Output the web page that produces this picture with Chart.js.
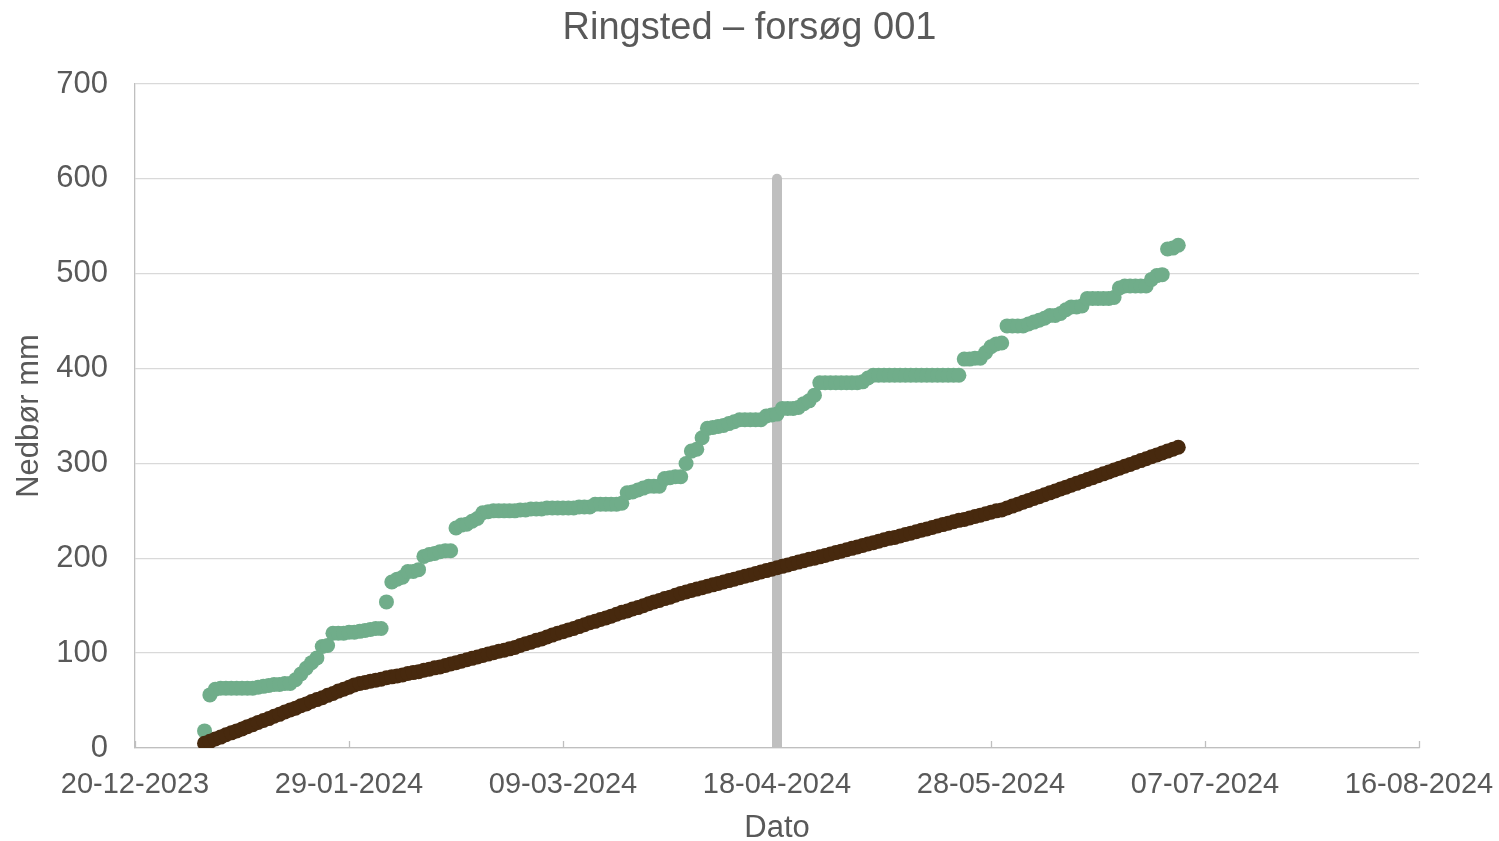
<!DOCTYPE html>
<html>
<head>
<meta charset="utf-8">
<script src="https://cdn.jsdelivr.net/npm/chart.js@4.4.1/dist/chart.umd.min.js"></script>
<style>
  html, body { margin: 0; padding: 0; background: #ffffff; }
  #wrap { width: 1499px; height: 841px; }
</style>
</head>
<body>
<div id="wrap"><canvas id="c" width="1499" height="841"></canvas></div>
<script>
// ---- Data ----
const tickLabels = ['20-12-2023','29-01-2024','09-03-2024','18-04-2024','28-05-2024','07-07-2024','16-08-2024'];
const firstDay = 13; // days after 20-12-2023 (02-01-2024), one value per day
const nedboerGreen = [
  18,56,62,63,63,63,63,63,63,63,
  64,65,66,67,67,68,68,72,78,84,
  90,95,107,108,121,121,121,122,122,123,
  124,125,126,126,154,175,178,180,186,186,
  188,202,204,205,207,208,208,232,235,236,
  239,242,248,249,250,250,250,250,250,251,
  251,252,252,252,253,253,253,253,253,253,
  254,254,254,257,257,257,257,257,258,269,
  270,272,274,276,276,276,284,285,286,286,
  300,313,315,327,337,338,339,340,342,344,
  346,346,346,346,346,350,351,352,358,358,
  358,359,363,366,372,385,385,385,385,385,
  385,385,385,386,390,393,393,393,393,393,
  393,393,393,393,393,393,393,393,393,393,
  393,393,410,410,411,411,417,423,426,427,
  445,445,445,445,447,449,451,453,456,456,
  458,462,465,465,466,474,474,474,474,474,
  475,485,487,487,487,487,487,494,498,499,
  526,527,530
];
const nedboerBrown = [
  5,7,9.5,11.5,14,16,18,20,22.5,24.5,27,29,31,33.5,35.5,38,40,42,44.5,46.5,49,51,53,55.5,57.5,60,62,64,66.5,68,
  69,70.5,71.5,72.5,74,75,76,77,78.5,79.5,80.5,82,83,84.5,85.5,
  87,88.5,90,91.5,93,94.5,96,97.5,99,100.5,102,103,104.5,106,
  108,110,111.5,113.5,115,117,119,121,122.5,124.5,126,128,130,132,133.5,135.5,137,139,141,143,144.5,146.5,148,150,152,154,155.5,157.5,159,161,163,
  164.5,166,167.5,169,170.5,172,173.5,175,176.5,178,179.5,181,182.5,184,185.5,187,188.5,190,
  191.5,193,194.5,196,197.5,199,200,201.5,203,204.5,206,207.5,209,210.5,212,213.5,215,216.5,218,219.5,221,222,223.5,225,226.5,228,229.5,231,232.5,234,235.5,237,238.5,240,241,242.5,244,245.5,247,248.5,250,251,
  253,255,257,259,261,263,265,267,269,271,273,275,277,279,281,283,285,287,289,291,293,295,297,299,301,303,305,307,309,311,313,315,317
];
const markerDay = [120, 120];   // 18-04-2024
const markerValue = [0, 600];

// ---- Build datasets ----
const greenPts = nedboerGreen.map((v, i) => ({ x: firstDay + i, y: v }));
const brownPts = nedboerBrown.map((v, i) => ({ x: firstDay + i, y: v }));
const markerPts = markerDay.map((d, i) => ({ x: d, y: markerValue[i] }));

const TEXT = '#595959';
const FONT = "'Liberation Sans', Arial, sans-serif";

const innerTicks = {
  id: 'innerTicks',
  beforeDatasetsDraw(chart) {
    const xs = chart.scales.x;
    const ctx = chart.ctx;
    const bottom = chart.chartArea.bottom;
    ctx.save();
    ctx.strokeStyle = '#BFBFBF';
    ctx.lineWidth = 1.3;
    xs.ticks.forEach(t => {
      const px = Math.round(xs.getPixelForValue(t.value)) + 0.5;
      ctx.beginPath();
      ctx.moveTo(px, bottom);
      ctx.lineTo(px, bottom - 7);
      ctx.stroke();
    });
    ctx.restore();
  }
};

new Chart(document.getElementById('c'), {
  type: 'scatter',
  data: {
    datasets: [
      {
        label: 'Reference',
        data: markerPts,
        showLine: true,
        borderColor: '#BFBFBF',
        borderWidth: 10,
        borderCapStyle: 'round',
        pointRadius: 0,
        clip: 0,
        order: 3
      },
      {
        label: 'Nedbør',
        data: greenPts,
        backgroundColor: '#70AD8A',
        borderWidth: 0,
        pointRadius: 7.5,
        order: 2
      },
      {
        label: 'Normal',
        data: brownPts,
        backgroundColor: '#47290E',
        borderWidth: 0,
        pointRadius: 7.5,
        order: 1
      }
    ]
  },
  options: {
    responsive: false,
    animation: false,
    devicePixelRatio: 1,
    layout: { padding: { left: 0, right: 0, top: 0, bottom: 0 } },
    plugins: {
      legend: { display: false },
      tooltip: { enabled: false },
      title: {
        display: true,
        text: 'Ringsted – forsøg 001',
        color: TEXT,
        font: { family: FONT, size: 38, weight: 'normal', lineHeight: 1.2 },
        padding: { top: 6, bottom: 32.4 }
      }
    },
    scales: {
      x: {
        type: 'linear',
        min: 0, max: 240,
        ticks: {
          stepSize: 40,
          color: TEXT,
          font: { family: FONT, size: 29 },
          padding: 20,
          maxRotation: 0,
          autoSkip: false,
          callback: (v) => tickLabels[Math.round(v / 40)] ?? ''
        },
        grid: { display: false, drawTicks: false },
        border: { display: true, color: '#BFBFBF', width: 1.3 },
        title: {
          display: true, text: 'Dato', color: TEXT,
          font: { family: FONT, size: 31, lineHeight: 0.8 },
          padding: { top: 0, bottom: 0 }
        },
        afterFit: (s) => { s.height = 93; s.paddingLeft = 0; s.paddingRight = 0; }
      },
      y: {
        min: 0, max: 700,
        ticks: {
          stepSize: 100,
          color: TEXT,
          font: { family: FONT, size: 31 },
          padding: 27
        },
        grid: { color: '#D9D9D9', lineWidth: 1.3, drawTicks: false },
        border: { display: true, color: '#BFBFBF', width: 1.3 },
        title: {
          display: true, text: 'Nedbør mm', color: TEXT,
          font: { family: FONT, size: 31, lineHeight: 1.2 },
          padding: { top: 11, bottom: 0 }
        },
        afterFit: (s) => { s.width = 135; }
      },
      yRight: {
        position: 'right',
        display: true,
        min: 0, max: 700,
        ticks: { display: false },
        grid: { display: false, drawTicks: false },
        border: { display: false },
        afterFit: (s) => { s.width = 80; s.paddingTop = 0; s.paddingBottom = 0; }
      }
    }
  },
  plugins: [innerTicks]
});
</script>
</body>
</html>
